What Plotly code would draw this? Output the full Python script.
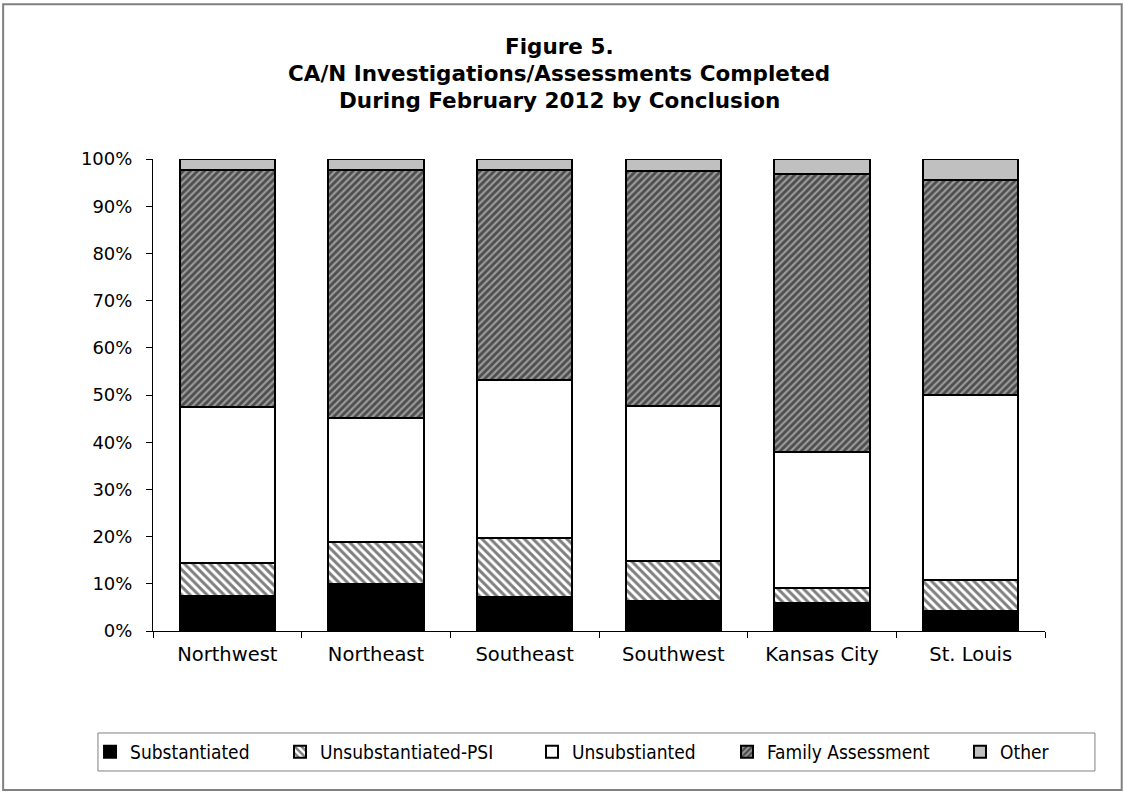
import plotly.graph_objects as go

regions = ["Northwest", "Northeast", "Southeast", "Southwest", "Kansas City", "St. Louis"]
substantiated = [7.4, 9.9, 7.1, 6.4, 5.9, 4.2]
unsub_psi = [7.1, 8.9, 12.7, 8.5, 3.3, 6.6]
unsubstantiated = [32.9, 26.4, 33.3, 32.7, 28.7, 39.3]
family_assessment = [50.2, 52.4, 44.5, 49.8, 58.9, 45.4]
other = [2.4, 2.4, 2.4, 2.6, 3.2, 4.5]
y_ticks = [0, 10, 20, 30, 40, 50, 60, 70, 80, 90, 100]
y_tick_labels = [f"{v}%" for v in y_ticks]
title_lines = ["Figure 5.", "CA/N Investigations/Assessments Completed", "During February 2012 by Conclusion"]

series = [
    ("Substantiated", substantiated, dict(color="black")),
    ("Unsubstantiated-PSI", unsub_psi, dict(color="white", pattern=dict(shape="\\", fgcolor="black", bgcolor="white", size=6, solidity=0.5))),
    ("Unsubstianted", unsubstantiated, dict(color="white")),
    ("Family Assessment", family_assessment, dict(color="#808080", pattern=dict(shape="/", fgcolor="black", bgcolor="#9a9a9a", size=5, solidity=0.55))),
    ("Other", other, dict(color="#c0c0c0")),
]
legend_x = [-0.0706, 0.1424, 0.4249, 0.6435, 0.9047]
legend_font = dict(family="DejaVu Sans Condensed, Liberation Sans", size=19, color="black")

fig = go.Figure()
layout_legends = {}
for i, (name, vals, mk) in enumerate(series):
    marker = dict(mk)
    marker["line"] = dict(color="black", width=2)
    key = "legend" if i == 0 else f"legend{i+1}"
    fig.add_trace(go.Bar(x=regions, y=vals, name=name, marker=marker, legend=key))
    layout_legends[key] = dict(x=legend_x[i], xanchor="left", y=-0.2564, yanchor="middle",
                               orientation="h", bgcolor="rgba(0,0,0,0)", borderwidth=0,
                               font=legend_font)

annotations = []
# title line centres at roughly 46, 73, 100 px from the top
for yy, txt in zip([1.2394, 1.1822, 1.125], title_lines):
    annotations.append(dict(text=txt, x=0.4555, xref="paper", y=yy, yref="paper",
                            xanchor="center", yanchor="middle", showarrow=False,
                            font=dict(family="DejaVu Sans", size=21.5, color="black", weight="bold")))

fig.update_layout(
    barmode="stack",
    bargap=0.36,
    width=1125, height=794,
    margin=dict(l=153, r=80, t=159, b=163),
    paper_bgcolor="white", plot_bgcolor="white",
    font=dict(family="DejaVu Sans", size=18, color="black"),
    showlegend=True,
    annotations=annotations,
    xaxis=dict(showline=True, linecolor="black", linewidth=1, ticks="outside", ticklen=6,
               tickson="boundaries", tickcolor="black", showgrid=False, ticklabelstandoff=6,
               tickfont=dict(family="DejaVu Sans", size=19.5)),
    yaxis=dict(range=[0, 100], tickvals=y_ticks, ticktext=y_tick_labels, showline=True,
               linecolor="black", linewidth=1, ticks="outside", ticklen=6, tickcolor="black",
               showgrid=False, zeroline=False, ticklabelstandoff=10,
               tickfont=dict(family="DejaVu Sans", size=18)),
    shapes=[
        dict(type="rect", xref="paper", yref="paper", x0=-0.168, x1=1.086, y0=-0.337, y1=1.328,
             line=dict(color="#808080", width=2), fillcolor="rgba(0,0,0,0)", layer="below"),
        dict(type="rect", xref="paper", yref="paper", x0=-0.0617, x1=1.056, y0=-0.2966, y1=-0.2161,
             line=dict(color="#808080", width=1), fillcolor="rgba(0,0,0,0)", layer="below"),
    ],
    **layout_legends,
)

fig.write_html("out.html", config={"displayModeBar": False},
               post_script="document.body.style.margin='0';")
